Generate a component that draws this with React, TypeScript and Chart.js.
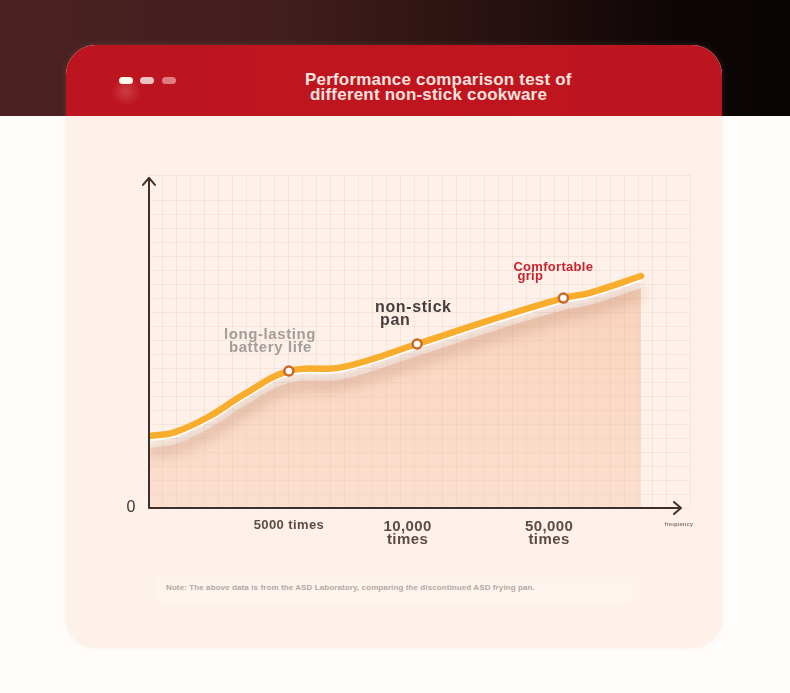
import React, { useEffect, useRef } from 'react';
import { Chart, registerables } from 'chart.js';

// ---------------- data ----------------
const xValues = [0, 4.9, 11.5, 18.0, 26.3, 36.4, 50.4, 64.3, 77.9, 82.9, 92.5];
const yValues = [21.8, 23.0, 27.9, 34.6, 41.5, 42.7, 49.7, 57.0, 63.6, 65.2, 70.3];
const markerIndices = [4, 6, 8];
const markerLabels = [
  ['long-lasting', 'battery life'],
  ['non-stick', 'pan'],
  ['Comfortable', 'grip'],
];
const xTickValues = [26.3, 48.6, 75.2];
const xTickLabels = [['5000 times'], ['10,000', 'times'], ['50,000', 'times']];
const xAxisTitle = 'frequency';
const xAxisTitleValue = 99.6;
const yTickLabel = '0';
const xAxisEnd = 100;
const yAxisEnd = 100;
const titleLines = ['Performance comparison test of', 'different non-stick cookware'];
const noteText = 'Note: The above data is from the ASD Laboratory, comparing the discontinued ASD frying pan.';

// ---------------- styles ----------------
const FONT = '"Liberation Sans", Arial, Helvetica, sans-serif';
const annotationStyles = [
  { color: '#a39d9b', size: 15, spacing: 0.6, lineOffsets: [[-65, -36], [-60, -23]] },
  { color: '#463e3c', size: 16, spacing: 0.6, lineOffsets: [[-42, -36], [-37, -23]] },
  { color: '#c8232c', size: 13, spacing: 0.3, lineOffsets: [[-50, -31], [-46, -22]] },
];
const tickStyles = [
  { size: 13, spacing: 0.4, lineYs: [525] },
  { size: 15, spacing: 0.4, lineYs: [527, 540] },
  { size: 15, spacing: 0.4, lineYs: [527, 540] },
];

const effectsPlugin = {
  id: 'lineEffects',
  beforeDatasetDraw(chart: any, args: any) {
    const ds: any = chart.data.datasets[args.index];
    const ctx = chart.ctx;
    ctx.save();
    if (ds.shiftY) {
      const a = chart.chartArea;
      ctx.beginPath();
      ctx.rect(a.left, a.top - 20, a.right - a.left, a.bottom - a.top + 20);
      ctx.clip();
      ctx.translate(0, ds.shiftY);
    }
    if (ds.glow) {
      ctx.shadowColor = ds.glow.color;
      ctx.shadowBlur = ds.glow.blur;
      ctx.shadowOffsetY = ds.glow.offsetY;
    }
  },
  afterDatasetDraw(chart: any) {
    chart.ctx.restore();
  },
};

Chart.register(effectsPlugin as any);
Chart.register(...registerables);

function spacedText(ctx: any, text: string, x: number, y: number, spacing: number) {
  ctx.letterSpacing = spacing + 'px';
  ctx.fillText(text, x, y);
  ctx.letterSpacing = '0px';
}

const overlayPlugin = {
  id: 'overlay',
  afterDatasetsDraw(chart: any) {
    const ctx = chart.ctx;
    const xs = chart.scales.x;
    const ys = chart.scales.y;
    const x0 = xs.getPixelForValue(0);
    const y0 = ys.getPixelForValue(0);
    const xEnd = xs.getPixelForValue(xAxisEnd);
    const yEnd = ys.getPixelForValue(yAxisEnd);
    ctx.save();
    ctx.strokeStyle = '#3b302c';
    ctx.lineWidth = 2;
    ctx.lineJoin = 'round';
    ctx.lineCap = 'round';
    ctx.beginPath();
    ctx.moveTo(x0, y0);
    ctx.lineTo(x0, yEnd);
    ctx.moveTo(x0 - 6, yEnd + 7);
    ctx.lineTo(x0, yEnd);
    ctx.lineTo(x0 + 6, yEnd + 7);
    ctx.moveTo(x0, y0);
    ctx.lineTo(xEnd, y0);
    ctx.moveTo(xEnd - 7, y0 - 6);
    ctx.lineTo(xEnd, y0);
    ctx.lineTo(xEnd - 7, y0 + 6);
    ctx.stroke();

    ctx.fillStyle = '#3a3434';
    ctx.font = '16px ' + FONT;
    ctx.textAlign = 'center';
    ctx.textBaseline = 'middle';
    ctx.fillText(yTickLabel, x0 - 18, y0);

    ctx.fillStyle = '#5a4c48';
    xTickValues.forEach((v, i) => {
      const st = tickStyles[i];
      ctx.font = 'bold ' + st.size + 'px ' + FONT;
      const px = xs.getPixelForValue(v);
      xTickLabels[i].forEach((line, j) => {
        spacedText(ctx, line, px, st.lineYs[j], st.spacing);
      });
    });

    ctx.fillStyle = '#8a7f7c';
    ctx.font = 'bold 6px ' + FONT;
    ctx.fillText(xAxisTitle, xs.getPixelForValue(xAxisTitleValue), y0 + 16);

    ctx.textAlign = 'left';
    markerIndices.forEach((idx, i) => {
      const st = annotationStyles[i];
      const px = xs.getPixelForValue(xValues[idx]);
      const py = ys.getPixelForValue(yValues[idx]);
      ctx.fillStyle = st.color;
      ctx.font = 'bold ' + st.size + 'px ' + FONT;
      markerLabels[i].forEach((line, j) => {
        const [dx, dy] = st.lineOffsets[j];
        spacedText(ctx, line, px + dx, py + dy, st.spacing);
      });
    });
    ctx.restore();
  },
};

export default function App() {
  const ref = useRef<HTMLCanvasElement>(null);

  useEffect(() => {
    const canvas = ref.current!;
    const points = xValues.map((x, i) => ({ x, y: yValues[i] }));
    const pointRadius = xValues.map((_, i) => (markerIndices.includes(i) ? 4.5 : 0));
    const chart = new Chart(canvas, {
      type: 'line',
      data: {
        datasets: [
          {
            label: 'area',
            data: points,
            order: 3,
            borderWidth: 0,
            borderColor: 'rgba(0,0,0,0)',
            pointRadius: 0,
            tension: 0.4,
            fill: 'origin',
            backgroundColor: (c: any) => {
              const a = c.chart.chartArea;
              if (!a) return 'rgba(246,196,165,0.4)';
              const g = c.chart.ctx.createLinearGradient(0, a.top + 90, 0, a.bottom);
              g.addColorStop(0, 'rgba(242,172,132,0.45)');
              g.addColorStop(1, 'rgba(247,192,160,0.35)');
              return g;
            },
            shiftY: 12,
          } as any,
          {
            label: 'edge',
            data: points,
            order: 2,
            borderWidth: 4,
            borderColor: '#ffffff',
            pointRadius: 0,
            tension: 0.4,
            fill: false,
            shiftY: 3,
            glow: { color: 'rgba(120,55,25,0.6)', blur: 15, offsetY: 12 },
          } as any,
          {
            label: 'line',
            data: points,
            order: 1,
            borderWidth: 6.5,
            borderColor: '#f8ad2c',
            borderCapStyle: 'round',
            tension: 0.4,
            pointRadius,
            pointHoverRadius: pointRadius,
            pointBackgroundColor: '#ffffff',
            pointBorderColor: '#c9692b',
            pointBorderWidth: 2.5,
            fill: false,
          } as any,
        ],
      },
      options: {
        responsive: false,
        animation: false,
        devicePixelRatio: 1,
        events: [],
        layout: { padding: { left: 149, right: 100, top: 175, bottom: 185 } },
        plugins: {
          legend: { display: false },
          tooltip: { enabled: false },
        },
        scales: {
          x: {
            type: 'linear',
            min: 0,
            max: 101.7,
            border: { display: false },
            ticks: { display: false, stepSize: 2.63, autoSkip: false },
            grid: { color: 'rgba(200,160,140,0.15)', lineWidth: 1, drawTicks: false },
          },
          y: {
            type: 'linear',
            min: 0,
            max: 100.9,
            border: { display: false },
            ticks: { display: false, stepSize: 4.24 },
            grid: { color: 'rgba(200,160,140,0.15)', lineWidth: 1, drawTicks: false },
          },
        },
      } as any,
      plugins: [overlayPlugin as any],
    });
    return () => chart.destroy();
  }, []);

  return (
    <div style={{ position: 'absolute', left: 0, top: 0, width: 790, height: 693, background: '#fffdfc', overflow: 'hidden', fontFamily: FONT }}>
      <div style={{ position: 'absolute', left: 0, top: 0, width: 790, height: 116, background: 'linear-gradient(to right, #4b2222 0%, #421e1e 35%, #2a1111 62%, #0e0606 85%, #090404 100%)' }} />
      <div style={{ position: 'absolute', left: 66, top: 45, width: 656, height: 603, borderRadius: 30, background: '#fdf1e9', overflow: 'hidden', boxShadow: '0 0 6px rgba(220,170,150,0.18)' }}>
        <div style={{ position: 'absolute', left: 0, top: 0, width: 656, height: 71, background: 'linear-gradient(to right, #bc1520, #c0151f 60%, #bb1620)' }} />
      </div>
      <div style={{ position: 'absolute', left: 110, top: 76, width: 32, height: 28, background: 'radial-gradient(ellipse at 50% 55%, rgba(255,200,200,0.22), rgba(255,200,200,0) 65%)' }} />
      <div style={{ position: 'absolute', left: 119, top: 77, width: 14, height: 7, borderRadius: 4, background: '#fff8ea' }} />
      <div style={{ position: 'absolute', left: 140, top: 77, width: 14, height: 7, borderRadius: 4, background: '#ecc3c3' }} />
      <div style={{ position: 'absolute', left: 162, top: 77, width: 14, height: 7, borderRadius: 4, background: '#dc7e84' }} />
      <div style={{ position: 'absolute', left: 305, top: 72, color: '#f5e2df', fontWeight: 'bold', fontSize: 17, lineHeight: '16px', letterSpacing: '0.2px', whiteSpace: 'nowrap' }}>{titleLines[0]}</div>
      <div style={{ position: 'absolute', left: 310, top: 87, color: '#f5e2df', fontWeight: 'bold', fontSize: 17, lineHeight: '16px', letterSpacing: '0.2px', whiteSpace: 'nowrap' }}>{titleLines[1]}</div>
      <div style={{ position: 'absolute', left: 155, top: 577, width: 478, height: 25, background: 'rgba(255,248,244,0.5)' }} />
      <div style={{ position: 'absolute', left: 166, top: 583, color: '#b3a8a4', fontWeight: 'bold', fontSize: 8, lineHeight: '10px', letterSpacing: '0.1px', whiteSpace: 'nowrap' }}>{noteText}</div>
      <canvas ref={ref} width={790} height={693} style={{ position: 'absolute', left: 0, top: 0, width: 790, height: 693 }} />
    </div>
  );
}
